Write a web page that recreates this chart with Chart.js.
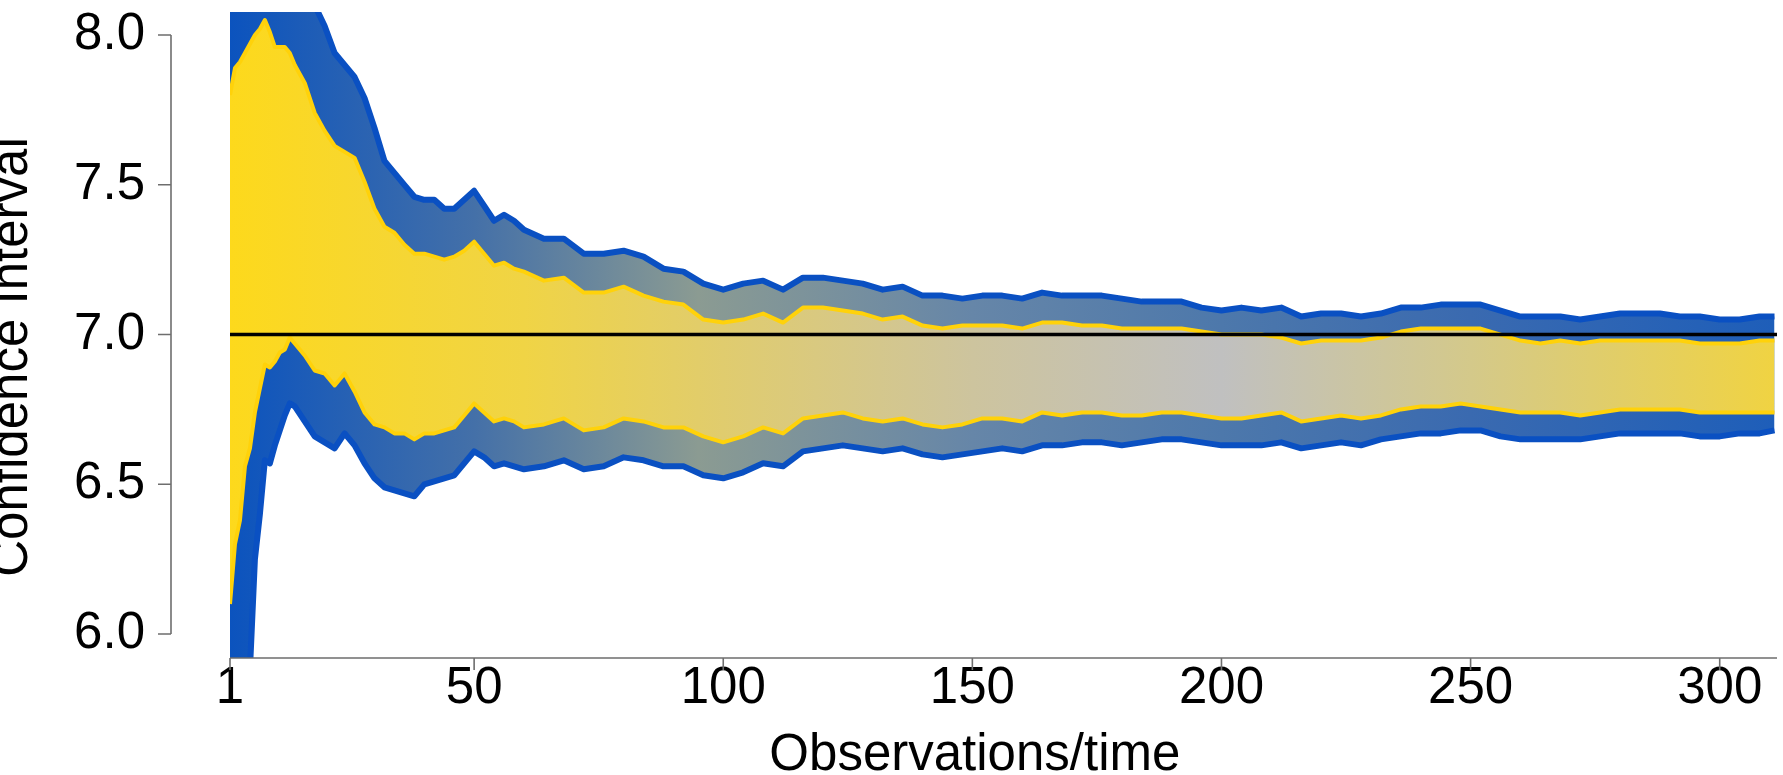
<!DOCTYPE html>
<html><head><meta charset="utf-8">
<script src="https://cdn.jsdelivr.net/npm/chart.js@4.4.1/dist/chart.umd.min.js"></script>
<style>html,body{margin:0;padding:0;background:#fff;overflow:hidden}canvas{display:block}</style>
</head><body>
<canvas id="c" width="1783" height="775"></canvas>
<script>
// ---------- data ----------
const obs = [1,2,3,4,5,6,7,8,9,10,11,12,13,14,
  16,18,20,22,24,26,28,30,32,34,36,38,40,42,44,46,48,50,52,54,56,58,60,
  64,68,72,76,80,84,88,92,96,100,104,108,112,116,120,124,128,132,136,140,
  144,148,152,156,160,164,168,172,176,180,184,188,192,196,200,204,208,212,216,220,
  224,228,232,236,240,244,248,252,256,260,264,268,272,276,280,284,288,292,296,300,304,308,311];

const innerUpper = [7.80,7.89,7.91,7.94,7.97,8.00,8.02,8.05,8.01,7.96,7.96,7.96,7.94,7.90,
  7.84,7.74,7.68,7.63,7.61,7.59,7.51,7.42,7.36,7.34,7.30,7.27,7.27,7.26,7.25,7.26,7.28,7.31,7.27,7.23,7.24,7.22,7.21,
  7.18,7.19,7.14,7.14,7.16,7.13,7.11,7.10,7.05,7.04,7.05,7.07,7.04,7.09,7.09,7.08,7.07,7.05,7.06,7.03,
  7.02,7.03,7.03,7.03,7.02,7.04,7.04,7.03,7.03,7.02,7.02,7.02,7.02,7.01,7.00,7.00,7.00,6.99,6.97,6.98,
  6.98,6.98,6.99,7.01,7.02,7.02,7.02,7.02,7.00,6.98,6.97,6.98,6.97,6.98,6.98,6.98,6.98,6.98,6.97,6.97,6.97,6.98,6.98];

const innerLower = [6.10,6.30,6.38,6.56,6.62,6.74,6.82,6.90,6.89,6.91,6.94,6.95,6.99,6.97,
  6.93,6.88,6.87,6.83,6.87,6.81,6.74,6.70,6.69,6.67,6.67,6.65,6.67,6.67,6.68,6.69,6.73,6.77,6.74,6.71,6.72,6.71,6.69,
  6.70,6.72,6.68,6.69,6.72,6.71,6.69,6.69,6.66,6.64,6.66,6.69,6.67,6.72,6.73,6.74,6.72,6.71,6.72,6.70,
  6.69,6.70,6.72,6.72,6.71,6.74,6.73,6.74,6.74,6.73,6.73,6.74,6.74,6.73,6.72,6.72,6.73,6.74,6.71,6.72,
  6.73,6.72,6.73,6.75,6.76,6.76,6.77,6.76,6.75,6.74,6.74,6.74,6.73,6.74,6.75,6.75,6.75,6.75,6.74,6.74,6.74,6.74,6.74];

const outerUpper = [8.20,8.30,8.30,8.32,8.35,8.38,8.40,8.42,8.38,8.33,8.30,8.29,8.27,8.24,
  8.17,8.10,8.03,7.94,7.90,7.86,7.79,7.69,7.58,7.54,7.50,7.46,7.45,7.45,7.42,7.42,7.45,7.48,7.43,7.38,7.40,7.38,7.35,
  7.32,7.32,7.27,7.27,7.28,7.26,7.22,7.21,7.17,7.15,7.17,7.18,7.15,7.19,7.19,7.18,7.17,7.15,7.16,7.13,
  7.13,7.12,7.13,7.13,7.12,7.14,7.13,7.13,7.13,7.12,7.11,7.11,7.11,7.09,7.08,7.09,7.08,7.09,7.06,7.07,
  7.07,7.06,7.07,7.09,7.09,7.10,7.10,7.10,7.08,7.06,7.06,7.06,7.05,7.06,7.07,7.07,7.07,7.06,7.06,7.05,7.05,7.06,7.06];

const outerLower = [5.60,5.70,5.78,5.82,5.88,6.25,6.40,6.58,6.57,6.63,6.68,6.73,6.77,6.76,
  6.71,6.66,6.64,6.62,6.67,6.63,6.57,6.52,6.49,6.48,6.47,6.46,6.50,6.51,6.52,6.53,6.57,6.61,6.59,6.56,6.57,6.56,6.55,
  6.56,6.58,6.55,6.56,6.59,6.58,6.56,6.56,6.53,6.52,6.54,6.57,6.56,6.61,6.62,6.63,6.62,6.61,6.62,6.60,
  6.59,6.60,6.61,6.62,6.61,6.63,6.63,6.64,6.64,6.63,6.64,6.65,6.65,6.64,6.63,6.63,6.63,6.64,6.62,6.63,
  6.64,6.63,6.65,6.66,6.67,6.67,6.68,6.68,6.66,6.65,6.65,6.65,6.65,6.66,6.67,6.67,6.67,6.67,6.66,6.66,6.67,6.67,6.68];

const trueMean = 7.0;
const yTicks = [6.0, 6.5, 7.0, 7.5, 8.0];
const xTicks = [1, 50, 100, 150, 200, 250, 300];
const xTitle = 'Observations/time';
const yTitle = 'Confidence Interval';

// ---------- styling ----------
const xMin = 1, xMax = 311.5, yMin = 5.92, yMax = 8.077;
const FONT = '"Liberation Sans", Arial, Helvetica, sans-serif';
const innerGrad = [[1,'#FDD91C'],[60,'#F0D445'],[100,'#E0CC6E'],[150,'#CDC49E'],[200,'#C0C0C0'],[250,'#D4C98A'],[311,'#F0D342']];
const outerGrad = [[1,'#0B53BE'],[50,'#4470A8'],[95,'#8B9B92'],[150,'#6686A8'],[200,'#4D78AB'],[250,'#3A6AB0'],[311,'#1E5EB9']];

function grad(stops) {
  return (ctx) => {
    const ch = ctx.chart, a = ch.chartArea;
    if (!a) return stops[0][1];
    const xs = ch.scales.x;
    const g = ch.ctx.createLinearGradient(a.left, 0, a.right, 0);
    stops.forEach(([v, c]) => {
      const o = (xs.getPixelForValue(v) - a.left) / (a.right - a.left);
      g.addColorStop(Math.min(1, Math.max(0, o)), c);
    });
    return g;
  };
}
const pts = arr => obs.map((x, i) => ({x, y: arr[i]}));

const axesPlugin = {
  id: 'axesPlugin',
  afterDraw(chart) {
    const {ctx, chartArea: a, scales: {x, y}} = chart;
    ctx.save();
    ctx.strokeStyle = '#6e6e6e';
    ctx.lineWidth = 1.6;
    const sx = a.left - 59;
    ctx.beginPath();
    ctx.moveTo(sx, y.getPixelForValue(yTicks[0]));
    ctx.lineTo(sx, y.getPixelForValue(yTicks[yTicks.length - 1]));
    yTicks.forEach(v => { const py = y.getPixelForValue(v); ctx.moveTo(sx, py); ctx.lineTo(sx - 13, py); });
    ctx.moveTo(a.left, a.bottom); ctx.lineTo(a.right, a.bottom);
    xTicks.forEach(v => { const px = x.getPixelForValue(v); ctx.moveTo(px, a.bottom); ctx.lineTo(px, a.bottom + 12); });
    ctx.stroke();
    ctx.fillStyle = '#000';
    ctx.font = '51px ' + FONT;
    ctx.textAlign = 'center';
    ctx.textBaseline = 'alphabetic';
    const cx = (x.getPixelForValue(xTicks[0]) + x.getPixelForValue(xTicks[xTicks.length - 1])) / 2;
    ctx.fillText(xTitle, cx, 770);
    ctx.translate(27, 357);
    ctx.rotate(-Math.PI / 2);
    ctx.fillText(yTitle, 0, 0);
    ctx.restore();
  }
};

Chart.defaults.font.family = FONT;
new Chart(document.getElementById('c'), {
  type: 'line',
  data: {
    datasets: [
      { label: 'true mean', data: [{x: xMin, y: trueMean}, {x: xMax, y: trueMean}],
        borderColor: '#000', borderWidth: 3.5, pointRadius: 0, fill: false, clip: 0 },
      { label: 'inner upper', data: pts(innerUpper), borderColor: '#FFD20A', borderWidth: 4,
        backgroundColor: grad(innerGrad), fill: '+1', pointRadius: 0, clip: 0 },
      { label: 'inner lower', data: pts(innerLower), borderColor: '#FFD20A', borderWidth: 4,
        fill: false, pointRadius: 0, clip: 0 },
      { label: 'outer upper', data: pts(outerUpper), borderColor: '#0A50C2', borderWidth: 6,
        backgroundColor: grad(outerGrad), fill: '+1', pointRadius: 0, clip: 0 },
      { label: 'outer lower', data: pts(outerLower), borderColor: '#0A50C2', borderWidth: 6,
        fill: false, pointRadius: 0, clip: 0 }
    ]
  },
  options: {
    responsive: false, animation: false, devicePixelRatio: 1,
    layout: { padding: { left: 0, right: 6, top: 12, bottom: 0 } },
    elements: { line: { tension: 0, borderJoinStyle: 'round', borderCapStyle: 'butt' } },
    plugins: { legend: { display: false }, tooltip: { enabled: false }, filler: { drawTime: 'beforeDatasetsDraw' } },
    scales: {
      x: {
        type: 'linear', min: xMin, max: xMax,
        grid: { display: false, drawTicks: false, tickLength: 0 },
        border: { display: false },
        ticks: { color: '#000', font: { size: 51 }, padding: 0, maxRotation: 0, autoSkip: false,
                 callback: v => String(v) },
        afterBuildTicks: s => { s.ticks = xTicks.map(v => ({value: v})); },
        afterFit: s => { s.height = 117; s.paddingLeft = 0; s.paddingRight = 0; }
      },
      y: {
        type: 'linear', min: yMin, max: yMax,
        grid: { display: false, drawTicks: false, tickLength: 0 },
        border: { display: false },
        ticks: { color: '#000', font: { size: 51 }, padding: 85, callback: v => v.toFixed(1) },
        afterBuildTicks: s => { s.ticks = yTicks.map(v => ({value: v})); },
        afterFit: s => { s.width = 230; s.paddingTop = 0; s.paddingBottom = 0; }
      }
    }
  },
  plugins: [axesPlugin]
});
</script>
</body></html>
